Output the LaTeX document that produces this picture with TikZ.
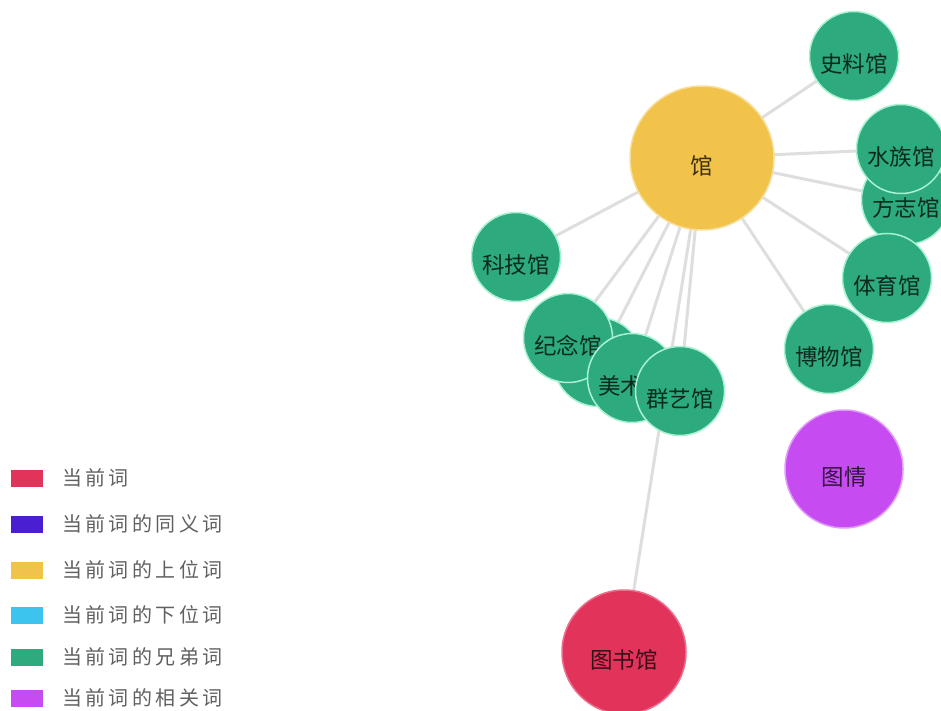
\documentclass[tikz,border=0pt]{standalone}
\usepackage{fontspec}
\newfontfamily\cjk{Noto Sans CJK SC}
\newfontfamily\cjkleg[LetterSpace=17]{Noto Sans CJK SC}
\pgfdeclarelayer{background}
\pgfsetlayers{background,main}
\definecolor{cyel}{HTML}{F1C34A}
\definecolor{cgreen}{HTML}{2DAA7E}
\definecolor{cgreenb}{HTML}{A8F2D2}
\definecolor{cred}{HTML}{E2335B}
\definecolor{cpurple}{HTML}{C64CF2}
\definecolor{cblue}{HTML}{4A1FD1}
\definecolor{ccyan}{HTML}{3CC4EE}
\definecolor{cedge}{HTML}{DEDEDE}
\definecolor{clegtext}{HTML}{606060}
\tikzset{
  word/.style={circle, inner sep=0pt, line width=1.5pt},
  wgreen/.style={word, fill=cgreen, draw=cgreenb, minimum size=89pt},
  wyel/.style={word, fill=cyel, draw=cyel!55!white, minimum size=144pt},
  wred/.style={word, fill=cred, draw=cred!70!white, minimum size=124pt},
  wpurple/.style={word, fill=cpurple, draw=cpurple!55!white, minimum size=118pt},
  wlabel/.style={font=\cjk\fontsize{22.5}{26}\selectfont, text=black, text opacity=0.75, inner sep=0pt},
  edge/.style={draw=cedge, line width=3pt},
  legbox/.style={rectangle, inner sep=0pt, minimum width=32pt, minimum height=17pt},
  legtext/.style={anchor=west, font=\cjkleg\fontsize{20}{24}\selectfont, text=clegtext, inner sep=0pt}
}
\begin{document}
\begin{tikzpicture}[x=1pt, y=-1pt]
\useasboundingbox (0,0) rectangle (941,711);
% nodes
\node[wyel] (guan) at (702,158) {};
\node[wlabel] (guanL) at (702,166) {馆};
\node[wgreen] (shiliao) at (854,56) {};
\node[wlabel] (shiliaoL) at (854,64) {史料馆};
\node[wgreen] (fangzhi) at (906,200) {};
\node[wlabel] (fangzhiL) at (906,208) {方志馆};
\node[wgreen] (shuizu) at (901,149) {};
\node[wlabel] (shuizuL) at (901,157) {水族馆};
\node[wgreen] (tiyu) at (887,278) {};
\node[wlabel] (tiyuL) at (887,286) {体育馆};
\node[wgreen] (bowu) at (829,349) {};
\node[wlabel] (bowuL) at (829,357) {博物馆};
\node[wgreen] (keji) at (516,257) {};
\node[wlabel] (kejiL) at (516,265) {科技馆};
\node[wgreen] (hidden) at (598,362) {};
\node[wgreen] (jinian) at (568,338) {};
\node[wlabel] (jinianL) at (568,346) {纪念馆};
\node[wgreen] (meishu) at (632,378) {};
\node[wlabel, anchor=west] (meishuL) at (598,386) {美术};
\node[wgreen] (qunyi) at (680,391) {};
\node[wlabel] (qunyiL) at (680,399) {群艺馆};
\node[wred] (tushu) at (624,652) {};
\node[wlabel] (tushuL) at (624,660) {图书馆};
\node[wpurple] (tuqing) at (844,469) {};
\node[wlabel] (tuqingL) at (844,477) {图情};
% edges
\begin{pgfonlayer}{background}
\foreach \t in {shiliao,shuizu,fangzhi,tiyu,bowu,keji,jinian,hidden,meishu,qunyi,tushu}
  \draw[edge] (guan.center) -- (\t.center);
\end{pgfonlayer}
% legend
\node[legbox, fill=cred] (lb1) at (27,478) {};
\node[legtext] (lt1) at (62,478) {当前词};
\node[legbox, fill=cblue] (lb2) at (27,524) {};
\node[legtext] (lt2) at (62,524) {当前词的同义词};
\node[legbox, fill=cyel] (lb3) at (27,570) {};
\node[legtext] (lt3) at (62,570) {当前词的上位词};
\node[legbox, fill=ccyan] (lb4) at (27,615) {};
\node[legtext] (lt4) at (62,615) {当前词的下位词};
\node[legbox, fill=cgreen] (lb5) at (27,657) {};
\node[legtext] (lt5) at (62,657) {当前词的兄弟词};
\node[legbox, fill=cpurple] (lb6) at (27,698) {};
\node[legtext] (lt6) at (62,698) {当前词的相关词};
\end{tikzpicture}
\end{document}
